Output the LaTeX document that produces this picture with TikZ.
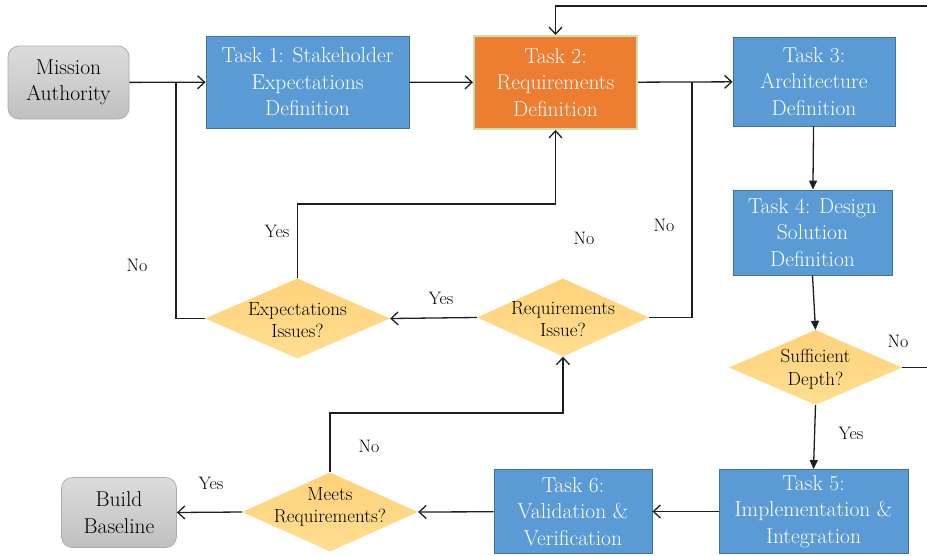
\documentclass[tikz,border=0pt]{standalone}
\usetikzlibrary{shapes.geometric,arrows.meta,calc}

\definecolor{taskblue}{RGB}{91,155,213}
\definecolor{taskedge}{RGB}{65,113,156}
\definecolor{taskorange}{RGB}{237,125,49}
\definecolor{orangeedge}{RGB}{197,224,180}
\definecolor{diatop}{RGB}{255,210,122}
\definecolor{diabot}{RGB}{255,222,145}
\definecolor{greytop}{RGB}{220,220,220}
\definecolor{greybot}{RGB}{192,192,192}
\definecolor{greyedge}{RGB}{172,172,172}
\definecolor{wire}{RGB}{30,30,30}

\tikzset{
  taskbox/.style={rectangle, fill=taskblue, draw=taskedge, line width=0.9pt,
    text=white, align=center, inner sep=0pt,
    font=\rmfamily\fontsize{21.5}{26.5}\selectfont},
  curbox/.style={taskbox, fill=taskorange, draw=orangeedge, line width=2pt},
  termbox/.style={rectangle, rounded corners=11pt, top color=greytop,
    bottom color=greybot, draw=greyedge, line width=0.8pt, text=black,
    align=center, inner sep=0pt, font=\rmfamily\fontsize{21.5}{26.5}\selectfont},
  decide/.style={diamond, top color=diatop, bottom color=diabot, draw=none,
    inner sep=0pt},
  decidetext/.style={align=center, text=black, inner sep=0pt,
    font=\rmfamily\fontsize{19}{22.5}\selectfont},
  answer/.style={text=black, inner sep=0pt, font=\rmfamily\fontsize{18}{20}\selectfont},
  wireline/.style={draw=wire, line width=1.3pt},
  openhead/.style={wireline, -{Straight Barb[length=7pt,width=13pt,line width=1.3pt]}},
  solidhead/.style={wireline, -{Triangle[length=9pt,width=8pt]}}
}

\begin{document}
\begin{tikzpicture}[x=1pt,y=-1pt]
  \useasboundingbox (0,0) rectangle (927,555);

  % process boxes
  \node[termbox, minimum width=121pt, minimum height=73pt] (ma) at (68.5,82.5) {Mission\\Authority};
  \node[taskbox, minimum width=203pt, minimum height=92pt] (t1) at (307.5,82) {Task 1: Stakeholder\\Expectations\\Definition};
  \node[curbox, minimum width=163pt, minimum height=93pt] (t2) at (555.5,82.5) {Task 2:\\Requirements\\Definition};
  \node[taskbox, minimum width=162pt, minimum height=89pt] (t3) at (814,81.5) {Task 3:\\Architecture\\Definition};
  \node[taskbox, minimum width=159pt, minimum height=85pt] (t4) at (812.5,232.5) {Task 4: Design\\Solution\\Definition};
  \node[taskbox, minimum width=189pt, minimum height=84pt] (t5) at (813.5,511.5) {Task 5:\\Implementation \&\\Integration};
  \node[taskbox, minimum width=158pt, minimum height=84pt] (t6) at (573,511.5) {Task 6:\\Validation \&\\Verification};
  \node[termbox, minimum width=115pt, minimum height=70pt] (bb) at (119,512.5) {Build\\Baseline};

  % decisions
  \node[decide, minimum width=173pt, minimum height=75pt] (sd) at (815.5,367.5) {};
  \node[decidetext] at (815.5,369) {Sufficient\\Depth?};
  \node[decide, minimum width=176pt, minimum height=79pt] (mr) at (330,512) {};
  \node[decidetext] at (330,507) {Meets\\Requirements?};
  \node[decide, minimum width=185pt, minimum height=80pt] (ei) at (297.5,318.5) {};
  \node[decidetext] at (297.5,320) {Expectations\\Issues?};
  \node[decide, minimum width=172pt, minimum height=78pt] (ri) at (563,317.5) {};
  \node[decidetext] at (563,319) {Requirements\\Issue?};

  % junction and routing points
  \coordinate (j1) at (176,82);
  \coordinate (j2) at (692,82);
  \coordinate (k1) at (400,204);
  \coordinate (k2) at (450,413);
  \coordinate (edgetop) at (927,6);
  \coordinate (edgeside) at (927,367.5);

  % main flow
  \draw[openhead] (ma) -- (t1);
  \draw[openhead] (t1) -- (t2);
  \draw[openhead] (t2) -- (t3);
  \draw[solidhead] (t3) -- (t4);
  \draw[solidhead] (t4.south) -- (sd.north);
  \draw[solidhead] (sd.south) -- (t5.north);
  \draw[openhead] (t5) -- (t6);
  \draw[openhead] (t6) -- (mr.east);
  \draw[openhead] (mr.west) -- (bb.east);

  % feedback loops
  \draw[openhead] (mr.north) |- (k2) -| (ri.south);
  \draw[openhead] (ri.west) -- (ei.east);
  \draw[openhead] (ei.north) |- (k1) -| (t2.south);
  \draw[wireline] (ei.west) -| (j1);
  \draw[wireline] (ri.east) -| (j2);
  \draw[wireline] (sd.east) -- (edgeside);
  \draw[openhead] (edgetop) -| (t2.north);

  % branch answers
  \node[answer] at (277,231) {Yes};
  \node[answer] at (584,238) {No};
  \node[answer] at (664,225) {No};
  \node[answer] at (441,298) {Yes};
  \node[answer] at (137,265) {No};
  \node[answer] at (898,341) {No};
  \node[answer] at (851,433) {Yes};
  \node[answer] at (369,446) {No};
  \node[answer] at (211,483) {Yes};
\end{tikzpicture}
\end{document}
